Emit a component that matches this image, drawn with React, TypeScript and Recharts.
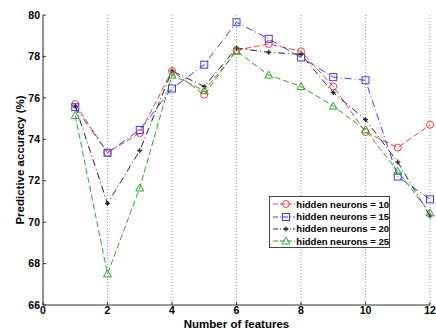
import { LineChart, Line, XAxis, YAxis, CartesianGrid, Label } from "recharts";

const features = [1, 2, 3, 4, 5, 6, 7, 8, 9, 10, 11, 12];
const hn10 = [75.7, 73.35, 74.3, 77.3, 76.15, 78.3, 78.6, 78.25, 76.55, 74.35, 73.6, 74.7];
const hn15 = [75.55, 73.35, 74.45, 76.45, 77.6, 79.65, 78.85, 77.95, 77.0, 76.85, 72.2, 71.1];
const hn20 = [75.6, 70.9, 73.45, 77.3, 76.55, 78.4, 78.2, 78.1, 76.25, 74.95, 72.9, 70.3];
const hn25 = [75.15, 67.5, 71.65, 77.1, 76.35, 78.25, 77.1, 76.55, 75.6, 74.45, 72.45, 70.45];

const xTicks = [0, 2, 4, 6, 8, 10, 12];
const yTicks = [66, 68, 70, 72, 74, 76, 78, 80];

const series = [
  { key: "hn10", name: "hidden neurons = 10", color: "#ff3b3b", dash: "6 3", shape: "circle" },
  { key: "hn15", name: "hidden neurons = 15", color: "#3b3bff", dash: "7 3 1 3", shape: "square" },
  { key: "hn20", name: "hidden neurons = 20", color: "#222222", dash: "7 3 1 3", shape: "star" },
  { key: "hn25", name: "hidden neurons = 25", color: "#2fa52f", dash: "6 3", shape: "triangle" },
];

const data = features.map((f, i) => ({
  x: f,
  hn10: hn10[i],
  hn15: hn15[i],
  hn20: hn20[i],
  hn25: hn25[i],
}));

const FONT = "'Liberation Sans', Arial, sans-serif";

const Marker = ({ cx, cy, shape, color }: any) => {
  if (cx == null || cy == null) return null;
  if (shape === "circle")
    return <circle cx={cx} cy={cy} r={3.5} fill="none" stroke={color} strokeWidth={1} />;
  if (shape === "square")
    return <rect x={cx - 3.5} y={cy - 3.5} width={7} height={7} fill="none" stroke={color} strokeWidth={1} />;
  if (shape === "triangle")
    return (
      <polygon
        points={`${cx},${cy - 4} ${cx - 4},${cy + 3} ${cx + 4},${cy + 3}`}
        fill="none"
        stroke={color}
        strokeWidth={1}
      />
    );
  // '+' style marker
  return (
    <g stroke={color} strokeWidth={1.1}>
      <line x1={cx - 2.5} y1={cy} x2={cx + 2.5} y2={cy} />
      <line x1={cx} y1={cy - 2.5} x2={cx} y2={cy + 2.5} />
      <line x1={cx - 1.5} y1={cy - 1.5} x2={cx + 1.5} y2={cy + 1.5} strokeWidth={0.7} />
      <line x1={cx - 1.5} y1={cy + 1.5} x2={cx + 1.5} y2={cy - 1.5} strokeWidth={0.7} />
    </g>
  );
};

const tickStyle = { fill: "#000", fontSize: 10.5, fontWeight: "bold", fontFamily: FONT };

const LegendBox = () => (
  <div
    style={{
      position: "absolute",
      left: 269,
      top: 196,
      width: 121,
      height: 52,
      border: "1px solid #444",
      background: "#fff",
      paddingTop: 1,
      boxSizing: "border-box",
    }}
  >
    {series.map((s) => (
      <div key={s.key} style={{ display: "flex", alignItems: "center", height: 12.4 }}>
        <svg width={29} height={12} style={{ marginLeft: 2 }}>
          <line x1={1} y1={6} x2={27} y2={6} stroke={s.color} strokeWidth={1} strokeDasharray={s.dash === "6 3" ? "5 2" : "5 2 1 2"} />
          <Marker cx={14} cy={6} shape={s.shape} color={s.color} />
        </svg>
        <span style={{ fontFamily: FONT, fontSize: 9.5, fontWeight: "bold", color: "#000", marginLeft: 1, whiteSpace: "nowrap" }}>
          {s.name}
        </span>
      </div>
    ))}
  </div>
);

export default function App() {
  return (
    <div style={{ position: "absolute", left: 0, top: 0, width: 436, height: 329, background: "#fff" }}>
      <LineChart width={436} height={329} data={data} margin={{ top: 15, right: 6, bottom: 0, left: 0 }}>
        <CartesianGrid horizontal={false} stroke="#999" strokeDasharray="1 2" />
        <XAxis
          dataKey="x"
          type="number"
          domain={[0, 12]}
          ticks={xTicks}
          height={24}
          tick={tickStyle}
          tickSize={-3}
          tickMargin={5}
          tickLine={{ stroke: "#333" }}
          axisLine={{ stroke: "#333" }}
        >
          <Label
            value="Number of features"
            position="insideBottom"
            offset={1}
            style={{ fontSize: 11.5, fontWeight: "bold", fill: "#000", fontFamily: FONT }}
          />
        </XAxis>
        <YAxis
          type="number"
          domain={[66, 80]}
          ticks={yTicks}
          width={43}
          tick={tickStyle}
          tickSize={-3}
          tickMargin={6}
          tickLine={{ stroke: "#333" }}
          axisLine={{ stroke: "#333" }}
        >
          <Label
            content={() => (
              <text
                x={20}
                y={160}
                transform="rotate(-90 20 160)"
                textAnchor="middle"
                dominantBaseline="central"
                style={{ fontSize: 11.5, fontWeight: "bold", fill: "#000", fontFamily: FONT }}
              >
                Predictive accuracy (%)
              </text>
            )}
          />
        </YAxis>
        {series.map((s) => (
          <Line
            key={s.key}
            dataKey={s.key}
            name={s.name}
            stroke={s.color}
            strokeWidth={1}
            strokeDasharray={s.dash}
            isAnimationActive={false}
            dot={(p: any) => <Marker key={`${s.key}-${p.index}`} cx={p.cx} cy={p.cy} shape={s.shape} color={s.color} />}
            activeDot={false}
          />
        ))}
      </LineChart>
      <LegendBox />
    </div>
  );
}
